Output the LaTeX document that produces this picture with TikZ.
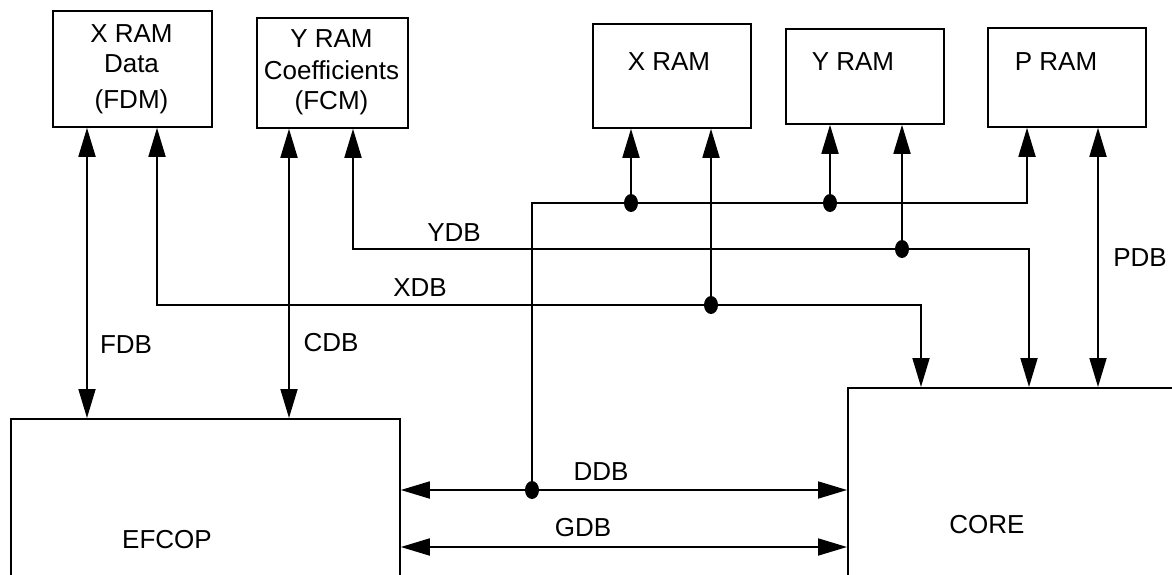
\documentclass[tikz,border=0pt]{standalone}
\usepackage{fontspec}
\setmainfont{Liberation Sans}
\usetikzlibrary{arrows.meta,shapes.geometric}
\begin{document}
\begin{tikzpicture}[x=1pt,y=-1pt,
  box/.style={draw, line width=1.8pt, inner sep=0pt, anchor=north west},
  lbl/.style={font=\fontsize{26}{30}\selectfont, inner sep=0pt, align=center},
  bus/.style={line width=1.8pt, -{Triangle[length=29pt,width=17pt]}},
  bbus/.style={line width=1.8pt, {Triangle[length=29pt,width=17pt]}-{Triangle[length=29pt,width=17pt]}},
  dot/.style={ellipse, fill, inner sep=0pt, minimum width=14pt, minimum height=18pt}]
\useasboundingbox (0,0) rectangle (1172,575);
\clip (0,0) rectangle (1172,575);

% boxes
\node[box, minimum width=159pt, minimum height=116pt] (fdm) at (52,10) {};
\node[box, minimum width=151pt, minimum height=110pt] (fcm) at (256,17) {};
\node[box, minimum width=158pt, minimum height=104pt] (xram) at (592,23) {};
\node[box, minimum width=158pt, minimum height=95pt] (yram) at (785,28) {};
\node[box, minimum width=158pt, minimum height=99pt] (pram) at (987,27) {};
\node[box, minimum width=389pt, minimum height=200pt] (efcop) at (10,418) {};
\node[box, minimum width=400pt, minimum height=250pt] (core) at (847,387) {};

% box texts
\node[lbl] (tfdm) at (131.5,69) {X RAM\\[0pt]Data\\[6pt](FDM)};
\node[lbl] (tfcm) at (331.5,72) {Y RAM\\[2pt]Coefficients\\(FCM)};
\node[lbl] (txram) at (669,62) {X RAM};
\node[lbl] (tyram) at (853,62) {Y RAM};
\node[lbl] (tpram) at (1056,62) {P RAM};
\node[lbl] (tefcop) at (167,540) {EFCOP};
\node[lbl] (tcore) at (987,525) {CORE};

% bus labels
\node[lbl] (lfdb) at (126,345) {FDB};
\node[lbl] (lcdb) at (331,343) {CDB};
\node[lbl] (lxdb) at (420,288) {XDB};
\node[lbl] (lydb) at (454,233) {YDB};
\node[lbl] (lpdb) at (1140,258) {PDB};
\node[lbl] (lddb) at (601,472) {DDB};
\node[lbl] (lgdb) at (583,528) {GDB};

% coordinates
\coordinate (fdbx) at (87,0);
\coordinate (cdbx) at (289,0);
\coordinate (x1) at (157,305);
\coordinate (x2) at (921,305);
\coordinate (y1) at (353,249);
\coordinate (y2) at (1029,249);
\coordinate (tb1) at (532,203);
\coordinate (tb2) at (1027,203);
\coordinate (pdbx) at (1098,0);
\coordinate (gy) at (0,547);

% dots
\node[dot] (dd) at (532,490) {};
\node[dot] (dxl) at (631,203) {};
\node[dot] (dyl) at (830,203) {};
\node[dot] (dxr) at (711,305) {};
\node[dot] (dyr) at (902,249) {};

% connectors
\draw[bbus] (fdm.south -| fdbx) -- (efcop.north -| fdbx);
\draw[bbus] (fcm.south -| cdbx) -- (efcop.north -| cdbx);
\draw[bbus] (fdm.south -| x1) -- (x1) -- (x2) -- (core.north -| x2);
\draw[bbus] (fcm.south -| y1) -- (y1) -- (y2) -- (core.north -| y2);
\draw[bus] (dd.center) -- (tb1) -- (tb2) -- (pram.south -| tb2);
\draw[bus] (dxl.center) -- (xram.south -| dxl);
\draw[bus] (dyl.center) -- (yram.south -| dyl);
\draw[bus] (dxr.center) -- (xram.south -| dxr);
\draw[bus] (dyr.center) -- (yram.south -| dyr);
\draw[bbus] (pram.south -| pdbx) -- (core.north -| pdbx);
\draw[bbus] (efcop.east |- dd) -- (core.west |- dd);
\draw[bbus] (efcop.east |- gy) -- (core.west |- gy);
\end{tikzpicture}
\end{document}
